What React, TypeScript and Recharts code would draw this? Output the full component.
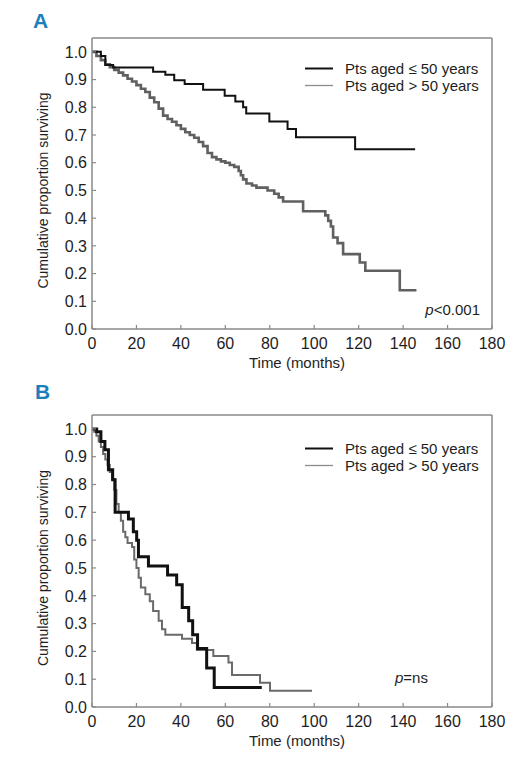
import { LineChart, Line, XAxis, YAxis, Legend } from "recharts";

// Panel A – survival by age, whole follow-up
const aYoungTime = [0, 4, 6, 9.5, 27.5, 33, 37, 41.7, 50, 59.7, 64.5, 68, 69.4, 79.8, 88, 91.8, 118.4, 145.4];
const aYoungSurv = [1.0, 0.985, 0.953, 0.944, 0.928, 0.917, 0.898, 0.884, 0.863, 0.842, 0.821, 0.8, 0.778, 0.749, 0.722, 0.692, 0.649, 0.649];

const aOldTime = [
  0, 2, 4, 6, 8, 10, 12, 14, 16, 18, 20, 22, 24, 26, 28, 30, 32, 34, 36, 38, 40, 42, 44, 46, 48, 50,
  52, 54, 56, 58, 60, 62, 64, 66, 67, 68, 69.5, 72, 74, 79, 82, 84, 86, 95, 105, 106.3, 107.5, 108.5,
  110.5, 113, 120.5, 123, 138.5, 146,
];
const aOldSurv = [
  1.0, 0.985, 0.97, 0.955, 0.945, 0.935, 0.925, 0.915, 0.903, 0.893, 0.88, 0.867, 0.855, 0.835, 0.818,
  0.795, 0.77, 0.758, 0.748, 0.735, 0.722, 0.71, 0.7, 0.69, 0.675, 0.66, 0.635, 0.62, 0.612, 0.605, 0.6,
  0.592, 0.585, 0.57, 0.555, 0.54, 0.525, 0.518, 0.51, 0.5, 0.488, 0.475, 0.46, 0.425, 0.41, 0.39, 0.37,
  0.33, 0.31, 0.27, 0.24, 0.21, 0.14, 0.14,
];

// Panel B
const bYoungTime = [0, 2.1, 4, 5.8, 7.4, 9.3, 10.4, 16.4, 18.6, 20.1, 20.9, 25.4, 34, 38.1, 40.6, 43.5, 45.3, 47.5, 51.6, 55, 76.4];
const bYoungSurv = [1.0, 0.99, 0.955, 0.925, 0.853, 0.817, 0.7, 0.676, 0.63, 0.6, 0.54, 0.507, 0.475, 0.44, 0.358, 0.31, 0.26, 0.21, 0.14, 0.07, 0.07];

const bOldTime = [
  0, 1, 2, 3, 4, 5, 6, 7, 8, 9, 10, 11, 12, 13, 14, 15, 16, 18, 19, 20, 21, 22, 24, 26, 27.5, 30, 31.5,
  33, 40.5, 45, 47.2, 54.6, 61.4, 63, 75.6, 80.1, 99,
];
const bOldSurv = [
  1.0, 0.99, 0.975, 0.955, 0.935, 0.91, 0.89, 0.87, 0.845, 0.82, 0.78, 0.73, 0.7, 0.67, 0.63, 0.61, 0.59,
  0.575, 0.53, 0.5, 0.465, 0.43, 0.405, 0.38, 0.345, 0.31, 0.28, 0.26, 0.245, 0.23, 0.205, 0.183, 0.16,
  0.115, 0.087, 0.058, 0.058,
];

const timeTicks = [0, 20, 40, 60, 80, 100, 120, 140, 160, 180];
const survTicks = [0, 0.1, 0.2, 0.3, 0.4, 0.5, 0.6, 0.7, 0.8, 0.9, 1.0];
const seriesNames = ["Pts aged \u2264 50 years", "Pts aged > 50 years"];

const FONT = '"Liberation Sans", Arial, sans-serif';
const FS = 15;
const TICK_FS = 16;
const FRAME = "#8a8a8a";
const TEXT = "#1e1e1e";

const toPoints = (t: number[], s: number[]) => t.map((x, i) => ({ t: x, s: s[i] }));

function YTick({ x, y, payload }: any) {
  return (
    <g>
      <line x1={x + 5} x2={x + 9} y1={y} y2={y} stroke={FRAME} strokeWidth={1.2} />
      <text x={x} y={y} dy="0.36em" textAnchor="end" fontSize={TICK_FS} fill={TEXT}>
        {Number(payload.value).toFixed(1)}
      </text>
    </g>
  );
}

function XTick({ x, y, payload }: any) {
  return (
    <g>
      <line x1={x} x2={x} y1={y - 6} y2={y - 10} stroke={FRAME} strokeWidth={1.2} />
      <text x={x} y={y} dy="0.85em" textAnchor="middle" fontSize={TICK_FS} fill={TEXT}>
        {payload.value}
      </text>
    </g>
  );
}

function YTitle({ viewBox }: any) {
  const cx = viewBox.x + viewBox.width - 49;
  const cy = viewBox.y + viewBox.height / 2 + 7;
  return (
    <text x={cx} y={cy} dy="0.36em" transform={`rotate(-90, ${cx}, ${cy})`} textAnchor="middle" fontSize={14} fill={TEXT}>
      Cumulative proportion surviving
    </text>
  );
}

const legendStroke = ["#111", "#8c8c8c"];
const legendWidth = [2, 1.3];

function LegendRows({ payload }: any) {
  const items = [...(payload || [])].sort(
    (a: any, b: any) => seriesNames.indexOf(a.value) - seriesNames.indexOf(b.value)
  );
  return (
    <div style={{ fontSize: FS, color: TEXT, fontFamily: FONT }}>
      {items.map((e: any, i: number) => (
        <div key={e.value} style={{ display: "flex", alignItems: "center", height: 17 }}>
          <svg width={28} height={17}>
            <line x1={0} x2={28} y1={8.5} y2={8.5} stroke={legendStroke[i]} strokeWidth={legendWidth[i]} />
          </svg>
          <span style={{ marginLeft: 12, whiteSpace: "nowrap" }}>{e.value}</span>
        </div>
      ))}
    </div>
  );
}

function Panel({ top, height, margin, young, old, youngWidth, oldWidth, oldColor }: any) {
  return (
    <div style={{ position: "absolute", left: 0, top }}>
      <LineChart width={520} height={height} margin={margin}>
        <XAxis
          dataKey="t"
          type="number"
          domain={[0, 180]}
          ticks={timeTicks}
          interval={0}
          height={40}
          tickSize={0}
          tickMargin={6}
          tick={<XTick />}
          axisLine={{ stroke: FRAME, strokeWidth: 1.5 }}
          label={{ value: "Time (months)", position: "insideBottom", offset: 1, dx: 5, fontSize: FS, fill: TEXT }}
        />
        <XAxis xAxisId="frame" orientation="top" type="number" domain={[0, 180]} height={1} tick={false} tickLine={false} axisLine={{ stroke: FRAME, strokeWidth: 1.5 }} />
        <YAxis
          type="number"
          domain={[0, 1.05]}
          ticks={survTicks}
          interval={0}
          width={49}
          tickSize={0}
          tickMargin={5}
          tick={<YTick />}
          axisLine={{ stroke: FRAME, strokeWidth: 1.5 }}
          label={<YTitle />}
        />
        <YAxis yAxisId="frame" orientation="right" type="number" domain={[0, 1.05]} width={1} tick={false} tickLine={false} axisLine={{ stroke: FRAME, strokeWidth: 1.5 }} />
        <Legend
          layout="vertical"
          align="center"
          verticalAlign="middle"
          wrapperStyle={{ top: 59.5, left: 305, width: 200 }}
          content={<LegendRows />}
        />
        <Line
          data={old}
          dataKey="s"
          name={seriesNames[1]}
          type="stepAfter"
          stroke={oldColor}
          strokeWidth={oldWidth}
          dot={false}
          isAnimationActive={false}
        />
        <Line
          data={young}
          dataKey="s"
          name={seriesNames[0]}
          type="stepAfter"
          stroke="#111"
          strokeWidth={youngWidth}
          dot={false}
          isAnimationActive={false}
        />
      </LineChart>
    </div>
  );
}

const letterStyle = {
  position: "absolute" as const,
  fontSize: 21,
  lineHeight: "21px",
  fontWeight: 700,
  color: "#1b7fbd",
};

const pStyle = {
  position: "absolute" as const,
  fontSize: FS,
  lineHeight: "15px",
  color: TEXT,
  whiteSpace: "nowrap" as const,
};

export default function App() {
  return (
    <div style={{ position: "absolute", left: 0, top: 0, width: 520, height: 762, background: "#fff", fontFamily: FONT }}>
      <Panel
        top={0}
        height={380}
        margin={{ top: 37, right: 27, bottom: 11, left: 43 }}
        young={toPoints(aYoungTime, aYoungSurv)}
        old={toPoints(aOldTime, aOldSurv)}
        youngWidth={2}
        oldWidth={2.6}
        oldColor="#606060"
      />
      <Panel
        top={380}
        height={382}
        margin={{ top: 34, right: 27, bottom: 15, left: 43 }}
        young={toPoints(bYoungTime, bYoungSurv)}
        old={toPoints(bOldTime, bOldSurv)}
        youngWidth={3}
        oldWidth={2}
        oldColor="#6a6a6a"
      />
      <div style={{ ...letterStyle, left: 33, top: 10 }}>A</div>
      <div style={{ ...letterStyle, left: 35, top: 381 }}>B</div>
      <div style={{ ...pStyle, right: 40, top: 302 }}>
        <i>p</i>&lt;0.001
      </div>
      <div style={{ ...pStyle, left: 395, top: 670 }}>
        <i>p</i>=ns
      </div>
    </div>
  );
}
